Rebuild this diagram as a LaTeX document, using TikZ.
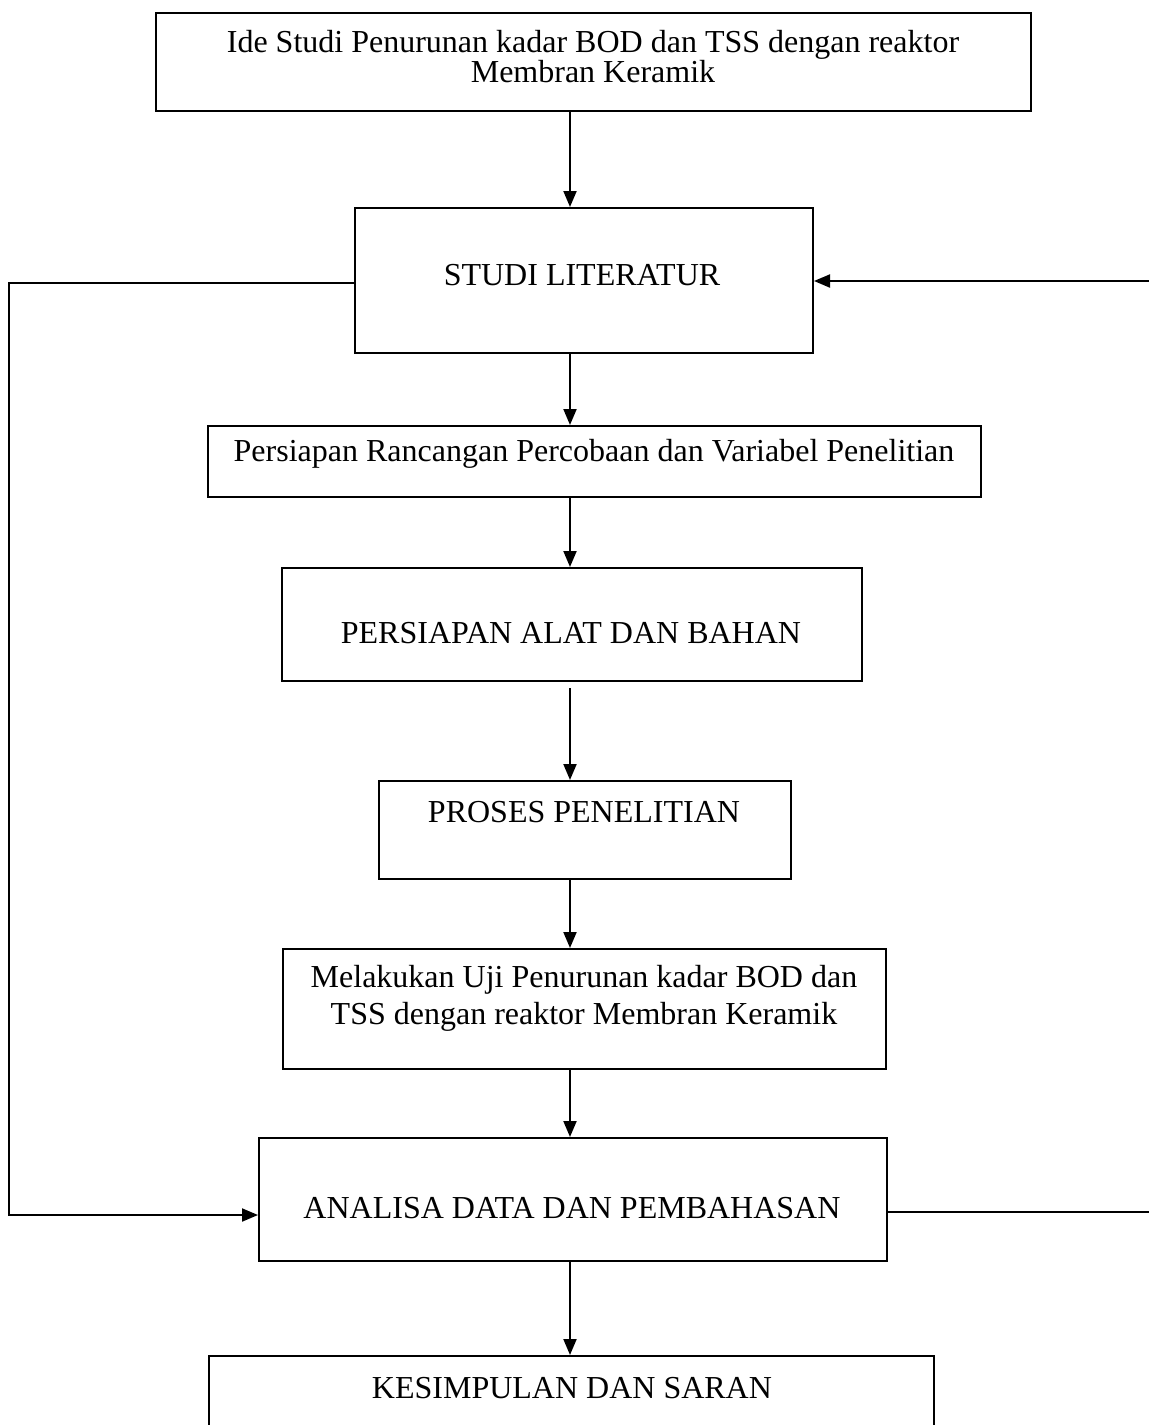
\documentclass[tikz,border=0pt]{standalone}
\usepackage{fontspec}
\setmainfont{Liberation Serif}
\usetikzlibrary{arrows.meta}
\begin{document}
\begin{tikzpicture}[x=0.5pt,y=-0.5pt,
  boxnode/.style={draw=black,line width=1pt,inner sep=0pt,anchor=north west},
  txt/.style={font=\fontsize{16}{15}\selectfont,align=center,inner sep=0pt},
  arr/.style={line width=1pt,-{Triangle[length=8pt,width=6.5pt]}},
  ln/.style={line width=1pt}]
\useasboundingbox (0,0) rectangle (1149,1425);
\fill[white] (0,0) rectangle (1149,1425);
% boxes
\node[boxnode,minimum width=437.5pt,minimum height=49pt] (b1) at (155,12) {};
\node[boxnode,minimum width=229pt,minimum height=72.5pt] (b2) at (354,207) {};
\node[boxnode,minimum width=386.5pt,minimum height=35.5pt] (b3) at (207,425) {};
\node[boxnode,minimum width=290pt,minimum height=56.5pt] (b4) at (281,567) {};
\node[boxnode,minimum width=206pt,minimum height=49pt] (b5) at (378,780) {};
\node[boxnode,minimum width=301.5pt,minimum height=60pt] (b6) at (282,948) {};
\node[boxnode,minimum width=314pt,minimum height=61.5pt] (b7) at (258,1137) {};
\node[boxnode,minimum width=362.5pt,minimum height=60pt] (b8) at (208,1355) {};
% texts
\node[txt] (t1) at (593,57) {Ide Studi Penurunan kadar BOD dan TSS dengan reaktor\\Membran Keramik};
\node[txt] (t2) at (582,275) {STUDI LITERATUR};
\node[txt] (t3) at (594,454) {Persiapan Rancangan Percobaan dan Variabel Penelitian};
\node[txt] (t4) at (571,633) {PERSIAPAN ALAT DAN BAHAN};
\node[txt] (t5) at (584,812) {PROSES PENELITIAN};
\node[txt,font=\fontsize{16}{18.5}\selectfont] (t6) at (584,998) {Melakukan Uji Penurunan kadar BOD dan\\TSS dengan reaktor Membran Keramik};
\node[txt] (t7) at (572,1208) {ANALISA DATA DAN PEMBAHASAN};
\node[txt] (t8) at (572,1388) {KESIMPULAN DAN SARAN};
% arrows
\coordinate (ax) at (570,0);
\draw[arr] (b1.south -| ax) -- (b2.north -| ax);
\draw[arr] (b2.south -| ax) -- (b3.north -| ax);
\draw[arr] (b3.south -| ax) -- (b4.north -| ax);
\draw[arr] ([yshift=-3pt]b4.south -| ax) -- (b5.north -| ax);
\draw[arr] (b5.south -| ax) -- (b6.north -| ax);
\draw[arr] (b6.south -| ax) -- (b7.north -| ax);
\draw[arr] (b7.south -| ax) -- (b8.north -| ax);
% loops
\coordinate (lx) at (9,0);
\coordinate (rx) at (1162,0);
\coordinate (sy) at (0,283);
\coordinate (ay) at (0,1215);
\coordinate (sy2) at (0,281);
\coordinate (ay2) at (0,1212);
\draw[arr] (b2.west |- sy) -- (lx |- sy) -- (lx |- ay) -- (b7.west |- ay);
\draw[arr] (b7.east |- ay2) -- (rx |- ay2) -- (rx |- sy2) -- (b2.east |- sy2);
\end{tikzpicture}
\end{document}
